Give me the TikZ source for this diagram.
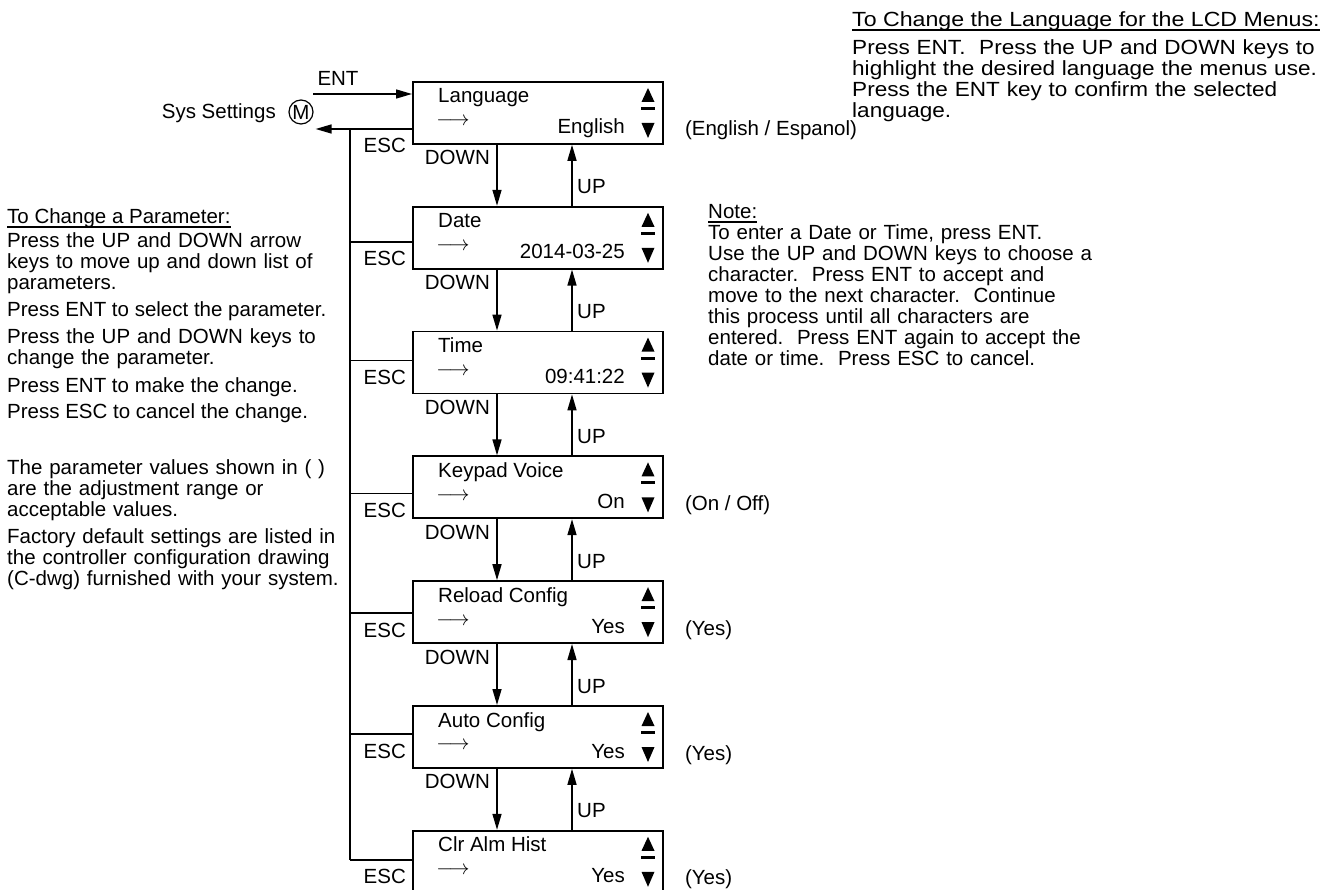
\documentclass[tikz,border=0pt]{standalone}
\usepackage{fontspec}
\setmainfont{Liberation Sans}
\newfontfamily\widesans{Liberation Sans}[FakeStretch=1.1]
\newfontfamily\widehead{Liberation Sans}[FakeStretch=1.13]
\usetikzlibrary{arrows.meta,calc}

\begin{document}
\begin{tikzpicture}[x=1pt,y=-1pt,
  font=\fontsize{20.5}{21}\selectfont,
  >={Triangle[length=16pt,width=9pt]},
  lcd/.style={draw,line width=1.8pt,minimum width=250pt,minimum height=62pt,inner sep=0pt,anchor=north west},
  txt/.style={inner sep=0pt,anchor=base west,align=left},
  para/.style={txt,text width=480pt},
  lbl/.style={inner sep=0pt},
  link/.style={->,line width=1.5pt},
  wire/.style={line width=1.5pt},
  uline/.style={line width=1.2pt},
]
\useasboundingbox (0,0) rectangle (1336,890);

% menu screens
\foreach \i/\nm/\ttl/\val/\esc in {0/lang/Language/English/48,1/date/Date/2014-03-25/36,
    2/time/Time/09:41:22/30,3/voice/Keypad Voice/On/38,4/reload/Reload Config/Yes/33,
    5/auto/Auto Config/Yes/29,6/clr/Clr Alm Hist/Yes/30}{
  \pgfmathsetmacro\ty{81+124.8*\i}
  \node[lcd] (\nm) at (412,\ty) {};
  \node[txt] at (438,\ty+22) {\ttl};
  \node[lbl,anchor=base east] at (625,\ty+53) {\val};
  \node[lbl] at (453,\ty+41) {$\longrightarrow$};
  % scroll marks
  \fill (648,\ty+7) -- (654.5,\ty+21) -- (641.5,\ty+21) -- cycle;
  \fill (641,\ty+26) rectangle (655,\ty+29);
  \fill (641.5,\ty+42) -- (654.5,\ty+42) -- (648,\ty+57) -- cycle;
  % escape stub
  \coordinate (esc\i) at (350,\ty+\esc);
  \draw[wire] (esc\i) -- (esc\i -| \nm.west);
  \node[lbl,anchor=base east] at ($(esc\i -| \nm.west)+(-6,24)$) {ESC};
}

\coordinate (dnx) at (497,0);
\coordinate (upx) at (572,0);
\foreach \a/\b in {lang/date,date/time,time/voice,voice/reload,reload/auto,auto/clr}{
  \draw[link] (\a.south -| dnx) -- (\b.north -| dnx);
  \draw[link] (\b.north -| upx) -- (\a.south -| upx);
  \node[lbl,anchor=base east] at ($(\a.south -| dnx)+(-7,20)$) {DOWN};
  \node[lbl,anchor=base west] at ($(\b.north -| upx)+(5,-12)$) {UP};
}

% entry point
\node[draw,circle,inner sep=0pt,minimum size=24pt,line width=1.2pt] (sysm) at (301,112) {M};
\node[lbl,anchor=base east] (sys) at (276,119) {Sys Settings};
\coordinate (entin) at (313,94);
\draw[link] (entin) -- (entin -| lang.west);
\node[lbl,anchor=base] at (338,86) {ENT};
\draw[wire] (esc0) -- (esc6);
\draw[link] (esc0 -| lang.west) -- ($(sysm.east |- esc0)+(2,0)$);

% value ranges
\node[txt] at ($(lang.north east)+(21,55)$) {(English / Espanol)};
\node[txt] at ($(voice.north east)+(21,55)$) {(On / Off)};
\node[txt] at ($(reload.north east)+(21,55)$) {(Yes)};
\node[txt] at ($(auto.north east)+(21,55)$) {(Yes)};
\node[txt] at ($(clr.north east)+(21,55)$) {(Yes)};

% language help
\node[txt,font=\widehead\fontsize{20.5}{21}\selectfont] (hlang) at (852,27) {To Change the Language for the LCD Menus:};
\draw[uline] ([yshift=-3pt]hlang.base west) -- ([yshift=-3pt]hlang.base east);
\node[para,font=\widesans\fontsize{20.5}{21}\selectfont] at (852,55) {Press ENT.\ \ Press the UP and DOWN keys to\\highlight the desired language the menus use.\\Press the ENT key to confirm the selected\\language.};

% note
\node[txt] (hnote) at (708,219) {Note:};
\draw[uline] ([yshift=-3pt]hnote.base west) -- ([yshift=-3pt]hnote.base east);
\node[para] at (708,240) {To enter a Date or Time, press ENT.\\Use the UP and DOWN keys to choose a\\character.\ \ Press ENT to accept and\\move to the next character.\ \ Continue\\this process until all characters are\\entered.\ \ Press ENT again to accept the\\date or time.\ \ Press ESC to cancel.};

% parameter help
\node[txt] (hparam) at (7,224) {To Change a Parameter:};
\draw[uline] ([yshift=-3pt]hparam.base west) -- ([yshift=-3pt]hparam.base east);
\node[para] at (7,248) {Press the UP and DOWN arrow\\keys to move up and down list of\\parameters.};
\node[txt] at (7,317) {Press ENT to select the parameter.};
\node[para] at (7,344) {Press the UP and DOWN keys to\\change the parameter.};
\node[txt] at (7,392) {Press ENT to make the change.};
\node[txt] at (7,419) {Press ESC to cancel the change.};
\node[para] at (7,474) {The parameter values shown in ( )\\are the adjustment range or\\acceptable values.};
\node[para] at (7,543) {Factory default settings are listed in\\the controller configuration drawing\\(C-dwg) furnished with your system.};
\end{tikzpicture}
\end{document}
